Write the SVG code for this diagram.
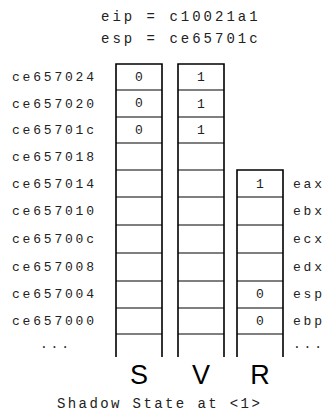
<svg xmlns="http://www.w3.org/2000/svg" width="331" height="417" viewBox="0 0 331 417">
<style>
.m{font-family:"Liberation Mono","DejaVu Sans Mono",monospace;font-size:13px;fill:#222;letter-spacing:2.8px}
.t{font-family:"Liberation Mono","DejaVu Sans Mono",monospace;font-size:14px;fill:#222;letter-spacing:3px}
.v{font-family:"Liberation Mono","DejaVu Sans Mono",monospace;font-size:13px;fill:#222;text-anchor:middle}
.h{font-family:"Liberation Sans",Arial,sans-serif;font-size:27px;fill:#000;text-anchor:middle}
.col{fill:none;stroke:#000;stroke-width:1.6}
.row{stroke:#000;stroke-width:1.1}
</style>
<rect width="331" height="417" fill="#fff"/>
<g id="header">
<text class="t" x="101" y="21">eip = c10021a1</text>
<text class="t" x="101" y="43">esp = ce65701c</text>
</g>
<g id="addresses">
<text class="m" x="12" y="81">ce657024</text>
<text class="m" x="12" y="108">ce657020</text>
<text class="m" x="12" y="134">ce65701c</text>
<text class="m" x="12" y="161">ce657018</text>
<text class="m" x="12" y="188">ce657014</text>
<text class="m" x="12" y="215">ce657010</text>
<text class="m" x="12" y="243">ce65700c</text>
<text class="m" x="12" y="271">ce657008</text>
<text class="m" x="12" y="298">ce657004</text>
<text class="m" x="12" y="325">ce657000</text>
<text class="m" x="40" y="348">...</text>
</g>
<g id="S">
<path class="col" d="M116,357 V64 H162 V357"/>
<path class="row" d="M116,90 H162 M116,117 H162 M116,143 H162 M116,170 H162 M116,197 H162 M116,225 H162 M116,253 H162 M116,281 H162 M116,308 H162 M116,334 H162"/>
<text class="v" x="139" y="81">0</text>
<text class="v" x="139" y="107">0</text>
<text class="v" x="139" y="134">0</text>
<text class="h" x="139" y="384">S</text>
</g>
<g id="V">
<path class="col" d="M178,357 V64 H224 V357"/>
<path class="row" d="M178,90 H224 M178,117 H224 M178,143 H224 M178,170 H224 M178,197 H224 M178,225 H224 M178,253 H224 M178,281 H224 M178,308 H224 M178,334 H224"/>
<text class="v" x="201" y="81">1</text>
<text class="v" x="201" y="108">1</text>
<text class="v" x="201" y="134">1</text>
<text class="h" x="201" y="384">V</text>
</g>
<g id="R">
<path class="col" d="M237,357 V170 H283 V357"/>
<path class="row" d="M237,197 H283 M237,225 H283 M237,253 H283 M237,281 H283 M237,308 H283 M237,334 H283"/>
<text class="v" x="260" y="188">1</text>
<text class="v" x="260" y="298">0</text>
<text class="v" x="260" y="325">0</text>
<text class="h" x="260" y="384">R</text>
</g>
<g id="registers">
<text class="m" x="293" y="188">eax</text>
<text class="m" x="293" y="215">ebx</text>
<text class="m" x="293" y="243">ecx</text>
<text class="m" x="293" y="271">edx</text>
<text class="m" x="293" y="298">esp</text>
<text class="m" x="293" y="325">ebp</text>
<text class="m" x="293" y="348">...</text>
</g>
<g id="caption">
<text class="t" x="57" y="408" style="letter-spacing:2.4px">Shadow State at &lt;1&gt;</text>
</g>
</svg>
